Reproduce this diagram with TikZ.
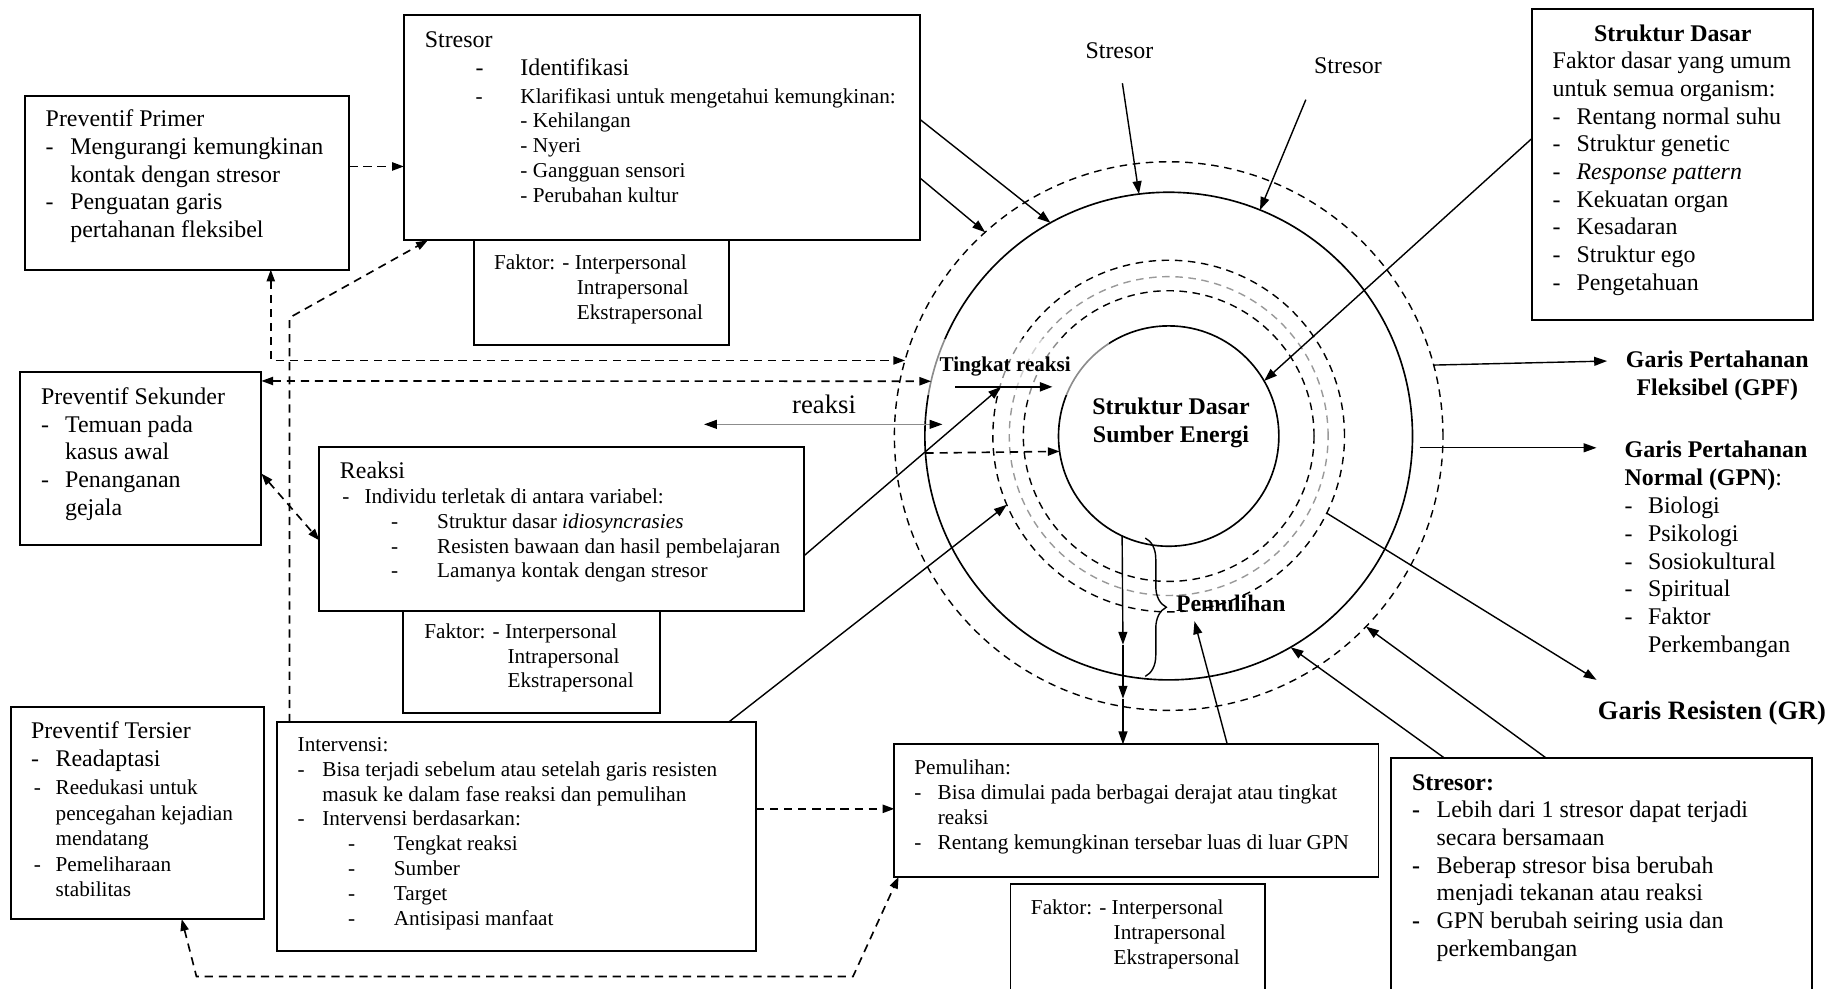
\documentclass[tikz,border=0pt]{standalone}
\usepackage{fontspec}
\setmainfont{Liberation Serif}
\usetikzlibrary{arrows.meta,decorations.pathreplacing}
\newcommand\dsh[1]{\makebox[#1][l]{-}}
\newcommand\bdsh[1]{\makebox[#1][l]{\textbf{-}}}
\newcommand\hin[1]{\hspace*{#1}}
\begin{document}
\begin{tikzpicture}[x=0.5pt,y=-0.5pt,
  box/.style={draw, line width=0.8pt, fill=white, inner sep=0pt, outer sep=0pt, anchor=north west},
  mainf/.style={font=\fontsize{10.2}{11.8}\selectfont},
  boldf/.style={font=\fontsize{10.2}{11.8}\selectfont\bfseries},
  smallf/.style={font=\fontsize{9.05}{10.6}\selectfont},
  txt/.style={anchor=north west, inner sep=0pt, outer sep=0pt, align=left},
  ring/.style={circle, draw, inner sep=0pt, outer sep=0pt, line width=0.7pt},
  dring/.style={ring, line width=0.6pt, dash pattern=on 3.2pt off 2.4pt},
  arr/.style={line width=0.6pt, -{Triangle[length=5.5pt,width=3.8pt]}},
  darr/.style={line width=0.7pt, dash pattern=on 3.5pt off 2.5pt, -{Triangle[length=5pt,width=3.5pt]}},
  ddarr/.style={darr, {Triangle[length=5pt,width=3.5pt]}-{Triangle[length=5pt,width=3.5pt]}}
]
\useasboundingbox (0,0) rectangle (1568,843);

% ---------- rings ----------
\coordinate (c) at (997,372);
\node[dring, minimum size=234pt] (fdash) at (c) {};
\node[ring, minimum size=208pt] (solid) at (c) {};
\node[dring, minimum size=150pt] (tri1) at (c) {};
\node[dring, draw=black!40, minimum size=136pt] (tri2) at (c) {};
\node[dring, minimum size=124pt] (tri3) at (c) {};
\node[ring, minimum size=94pt] (core) at (c) {};
\fill[white, opacity=0.55] (782,289) rectangle (946,337);

% ---------- boxes ----------
\node[box, minimum width=109pt, minimum height=44.5pt] (faktor1) at (404,205) {};
\node[box, minimum width=109.5pt, minimum height=43.5pt] (faktor2) at (344,521) {};
\node[box, minimum width=108.5pt, minimum height=58pt] (faktor3) at (862,754) {};
\node[box, minimum width=138.5pt, minimum height=74pt] (primer) at (21,82) {};
\node[box, minimum width=220.25pt, minimum height=96.25pt] (stresor) at (344.5,12.5) {};
\node[box, minimum width=103pt, minimum height=74pt] (sekunder) at (17,317) {};
\node[box, minimum width=206.75pt, minimum height=70pt] (reaksi) at (272.5,381) {};
\node[box, minimum width=107.75pt, minimum height=90.5pt] (tersier) at (9.5,603) {};
\node[box, minimum width=204.25pt, minimum height=97.5pt] (intervensi) at (236.5,616) {};
\node[box, minimum width=206.5pt, minimum height=56.5pt] (pemulihan) at (763,635) {};
\node[box, minimum width=179.5pt, minimum height=111.5pt] (stresorBR) at (1187,647) {};
\node[box, minimum width=120pt, minimum height=132.5pt] (struktur) at (1307,8) {};

% ---------- texts ----------
\node[txt, mainf] (primerT) at (39,91.6) {\strut Preventif Primer\\\dsh{10.5pt}Mengurangi kemungkinan\\\hin{10.5pt}kontak dengan stresor\\\dsh{10.5pt}Penguatan garis\\\hin{10.5pt}pertahanan fleksibel};

\node[txt, mainf] (stresorT1) at (362.4,23.6) {\strut Stresor};
\node[txt, mainf] (stresorT2) at (405.8,47.9) {\strut\dsh{19.1pt}Identifikasi};
\node[txt, smallf] (stresorT3) at (405.8,73.1) {\strut\dsh{19.1pt}Klarifikasi untuk mengetahui kemungkinan:\\\hin{19.1pt}- Kehilangan\\\hin{19.1pt}- Nyeri\\\hin{19.1pt}- Gangguan sensori\\\hin{19.1pt}- Perubahan kultur};

\node[txt, smallf] (faktor1T) at (421.5,215.2) {\strut Faktor: - Interpersonal\\\hin{35.3pt}Intrapersonal\\\hin{35.3pt}Ekstrapersonal};

\node[txt, mainf] (sekunderT) at (35,328.6) {\strut Preventif Sekunder\\\dsh{10.25pt}Temuan pada\\\hin{10.25pt}kasus awal\\\dsh{10.25pt}Penanganan\\\hin{10.25pt}gejala};

\node[txt, mainf] (reaksiT1) at (290,391.6) {\strut Reaksi};
\node[txt, smallf] (reaksiT2) at (292,414.6) {\strut\dsh{9.5pt}Individu terletak di antara variabel:\\\hin{20.8pt}\dsh{19.7pt}Struktur dasar \textit{idiosyncrasies}\\\hin{20.8pt}\dsh{19.7pt}Resisten bawaan dan hasil pembelajaran\\\hin{20.8pt}\dsh{19.7pt}Lamanya kontak dengan stresor};

\node[txt, smallf] (faktor2T) at (362,529.6) {\strut Faktor: - Interpersonal\\\hin{35.5pt}Intrapersonal\\\hin{35.5pt}Ekstrapersonal};

\node[txt, mainf] (tersierT1) at (26.5,613.6) {\strut Preventif Tersier\\\dsh{10.5pt}Readaptasi};
\node[txt, font=\fontsize{9.05}{10.9}\selectfont] (tersierT2) at (28.9,662.6) {\strut\dsh{9.3pt}Reedukasi untuk\\\hin{9.3pt}pencegahan kejadian\\\hin{9.3pt}mendatang\\\dsh{9.3pt}Pemeliharaan\\\hin{9.3pt}stabilitas};

\node[txt, smallf] (intervensiT) at (254,626.2) {\strut Intervensi:\\\dsh{10.5pt}Bisa terjadi sebelum atau setelah garis resisten\\\hin{10.5pt}masuk ke dalam fase reaksi dan pemulihan\\\dsh{10.5pt}Intervensi berdasarkan:\\\hin{21.5pt}\dsh{19.5pt}Tengkat reaksi\\\hin{21.5pt}\dsh{19.5pt}Sumber\\\hin{21.5pt}\dsh{19.5pt}Target\\\hin{21.5pt}\dsh{19.5pt}Antisipasi manfaat};

\node[txt, smallf] (pemulihanT) at (780,646) {\strut Pemulihan:\\\dsh{10pt}Bisa dimulai pada berbagai derajat atau tingkat\\\hin{10pt}reaksi\\\dsh{10pt}Rentang kemungkinan tersebar luas di luar GPN};

\node[txt, smallf] (faktor3T) at (879.5,765.6) {\strut Faktor: - Interpersonal\\\hin{35.3pt}Intrapersonal\\\hin{35.3pt}Ekstrapersonal};

\node[boldf, anchor=base, inner sep=0pt] (strukturH) at (1427,35) {Struktur Dasar};
\node[txt, mainf] (strukturT) at (1324.6,42.2) {\strut Faktor dasar yang umum\\untuk semua organism:\\\dsh{10.2pt}Rentang normal suhu\\\dsh{10.2pt}Struktur genetic\\\dsh{10.2pt}\textit{Response pattern}\\\dsh{10.2pt}Kekuatan organ\\\dsh{10.2pt}Kesadaran\\\dsh{10.2pt}Struktur ego\\\dsh{10.2pt}Pengetahuan};

\node[boldf, anchor=north, inner sep=0pt, align=center] (gpfT) at (1465,296.6) {\strut Garis Pertahanan\\Fleksibel (GPF)};

\node[txt, font=\fontsize{10.2}{11.9}\selectfont] (gpnT) at (1386,373.6) {\strut\textbf{Garis Pertahanan}\\\textbf{Normal (GPN)}:\\\dsh{10pt}Biologi\\\dsh{10pt}Psikologi\\\dsh{10pt}Sosiokultural\\\dsh{10pt}Spiritual\\\dsh{10pt}Faktor\\\hin{10pt}Perkembangan};

\node[font=\fontsize{11.3}{13}\selectfont\bfseries, anchor=base, inner sep=0pt] (grT) at (1460.5,614) {Garis Resisten (GR)};

\node[txt, mainf] (stresorBRT) at (1204.7,657.6) {\strut\textbf{Stresor:}\\\bdsh{10.45pt}Lebih dari 1 stresor dapat terjadi\\\hin{10.45pt}secara bersamaan\\\bdsh{10.45pt}Beberap stresor bisa berubah\\\hin{10.45pt}menjadi tekanan atau reaksi\\\bdsh{10.45pt}GPN berubah seiring usia dan\\\hin{10.45pt}perkembangan};

\node[mainf, anchor=base, inner sep=0pt] (s1) at (955,50) {Stresor};
\node[mainf, anchor=base, inner sep=0pt] (s2) at (1150,63) {Stresor};
\node[font=\fontsize{11.4}{13}\selectfont, anchor=base, inner sep=0pt] (reaksiL) at (703,353) {reaksi};
\node[font=\fontsize{9}{10}\selectfont\bfseries, anchor=base, inner sep=0pt] (tingkatL) at (857.5,317) {Tingkat reaksi};
\node[font=\fontsize{10.2}{12}\selectfont\bfseries, anchor=north, inner sep=0pt, align=center] (coreL) at (999,336.6) {\strut Struktur Dasar\\Sumber Energi};
\node[font=\fontsize{10.1}{12}\selectfont\bfseries, anchor=base, inner sep=0pt] (pemL) at (1050,522) {Pemulihan};

% ---------- solid connectors ----------
\draw[arr] (stresor.east |- 0,102) -- (solid.119);
\draw[arr] (stresor.east |- 0,152) -- (fdash.132);
\coordinate (s1a) at (957.5,71);
\draw[arr] (s1a) -- (solid.97);
\coordinate (s2a) at (1114,85);
\draw[arr] (s2a) -- (solid.68);
\draw[arr] (struktur.west |- 0,118) -- (core.30);
\coordinate (gpfE) at (1371,308);
\draw[arr] (fdash.15.9) -- (gpfE);
\coordinate (gpnS) at (1211,382);
\coordinate (gpnE) at (1362,382);
\draw[arr] (gpnS) -- (gpnE);
\coordinate (grE) at (1362,580);
\draw[arr] (tri1.-26.6) -- (grE);
\draw[arr] (stresorBR.north -| 1232.7,0) -- (solid.-60.8);
\draw[arr] (stresorBR.north -| 1319.5,0) -- (fdash.-44.8);

\coordinate (v1) at (958,550);
\coordinate (v2) at (958,596);
\draw[arr] (core.245.5) -- (v1);
\draw[arr] (v1) -- (v2);
\draw[arr] (v2) -- (pemulihan.north -| v2);
\coordinate (pemtip) at (1019,530);
\draw[arr] (pemulihan.north -| 1047,0) -- (pemtip);
\draw[line width=0.6pt, decorate, decoration={brace, amplitude=9pt}] (977,459) -- (977,577);

\coordinate (tkA) at (815,330);
\coordinate (tkB) at (898,330);
\coordinate (tk) at (854,330);
\draw[arr, line width=1.1pt] (tkA) -- (tkB);
\draw[arr] (reaksi.east |- 0,474) -- (tk);
\draw[arr] (intervensi.north -| 621.6,0) -- (tri1.203);
\draw[darr] (solid.184) -- (core.188);
\coordinate (rkL) at (600.6,362);
\coordinate (rkR) at (804,362);
\draw[line width=0.6pt, draw=black!45, {Triangle[length=5.5pt,width=3.8pt,color=black]}-{Triangle[length=5.5pt,width=3.8pt,color=black]}] (rkL) -- (rkR);

% ---------- dashed connectors ----------
\draw[darr] (primer.east |- 0,142) -- (stresor.west |- 0,142);
\draw[ddarr] (primer.south -| 231,0) |- (fdash.164.6);
\draw[ddarr] (sekunder.east |- 0,325) -- (solid.167);
\draw[ddarr] (sekunder.east |- 0,404) -- (reaksi.west |- 0,461);
\coordinate (bendA) at (247,271);
\draw[darr] (intervensi.north -| 247,0) -- (bendA) -- (stresor.south -| 365,0);
\draw[darr] (intervensi.east |- 0,690) -- (pemulihan.west |- 0,690);
\coordinate (bendB) at (167.6,833);
\coordinate (bendC) at (727.7,833);
\draw[ddarr] (tersier.south -| 155,0) -- (bendB) -- (bendC) -- (pemulihan.south -| 766.6,0);
\end{tikzpicture}
\end{document}
